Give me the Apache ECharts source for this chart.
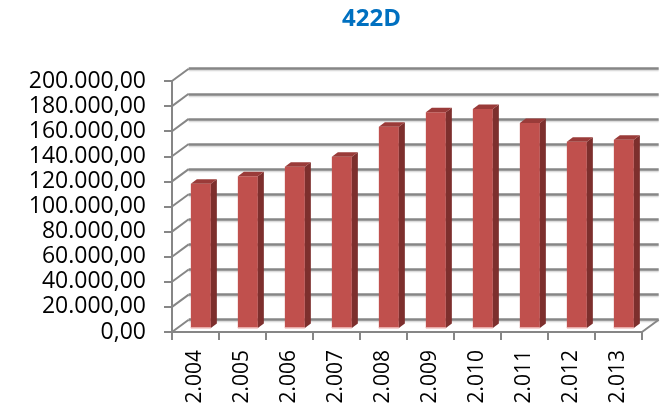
<!DOCTYPE html>
<html>
<head>
<meta charset="utf-8">
<script src="https://cdn.jsdelivr.net/npm/echarts@6/dist/echarts.min.js"></script>
<style>html,body{margin:0;padding:0;background:#fff;}#c{width:664px;height:413px;}</style>
</head>
<body>
<div id="c"></div>
<script>
const categories = ['2.004','2.005','2.006','2.007','2.008','2.009','2.010','2.011','2.012','2.013'];
const values = [115000, 121000, 128500, 136500, 160500, 172000, 174500, 163500, 148500, 150000];
const yTicks = [0, 20000, 40000, 60000, 80000, 100000, 120000, 140000, 160000, 180000, 200000];
const titleText = '422D';

const DX = 16.7, DY = -12.3;      // wall depth offset
const FACE_W = 20, SIDE_DX = 6, SIDE_DY = -4.5;
const gridColor = '#868686';

function fmt(v) {
  const s = Math.round(v).toString().replace(/\B(?=(\d{3})+(?!\d))/g, '.');
  return s + ',00';
}

const chart = echarts.init(document.getElementById('c'));
chart.setOption({
  animation: false,
  title: {
    text: titleText, left: 337, top: 2,
    textStyle: { color: '#0070C0', fontFamily: 'Open Sans', fontWeight: 'bold', fontSize: 24 }
  },
  grid: [
    { left: 172, top: 81, width: 470, height: 251 },
    { left: 172 + DX, top: 81 + DY, width: 470, height: 251 }
  ],
  xAxis: [
    {
      type: 'category', gridIndex: 0, data: categories,
      axisLine: { show: true, lineStyle: { color: gridColor, width: 2 } },
      axisTick: { show: true, length: 8, interval: 0, lineStyle: { color: gridColor, width: 2 } },
      axisLabel: { rotate: 90, margin: 18, interval: 0, color: '#000', fontFamily: 'Open Sans', fontSize: 21 }
    },
    {
      type: 'category', gridIndex: 1, data: categories,
      axisLine: { show: false }, axisTick: { show: false }, axisLabel: { show: false }
    }
  ],
  yAxis: [
    {
      type: 'value', gridIndex: 0, min: 0, max: 200000, interval: 20000,
      axisLine: { show: true, lineStyle: { color: gridColor, width: 2 } },
      axisTick: { show: true, length: 8, lineStyle: { color: gridColor, width: 2 } },
      splitLine: { show: false },
      axisLabel: { margin: 26, color: '#000', fontFamily: 'Open Sans', fontSize: 23, formatter: fmt }
    },
    {
      type: 'value', gridIndex: 1, min: 0, max: 200000, interval: 20000,
      axisLine: { show: false }, axisTick: { show: false }, axisLabel: { show: false },
      splitLine: { show: true, lineStyle: { color: gridColor, width: 2.5, shadowColor: 'rgba(0,0,0,0.15)', shadowOffsetY: 1.5, shadowBlur: 1 } }
    }
  ],
  series: [
    {
      type: 'custom', xAxisIndex: 0, yAxisIndex: 0, z: 1,
      data: yTicks.map(v => [0, v]),
      renderItem: function (params, api) {
        const cs = params.coordSys;
        const y = api.coord([0, api.value(1)])[1];
        const children = [{
          type: 'line',
          shape: { x1: cs.x, y1: y, x2: cs.x + DX, y2: y + DY },
          style: { stroke: gridColor, lineWidth: 2 }
        }];
        if (api.value(1) === 0) {
          children.push({
            type: 'line',
            shape: { x1: cs.x + cs.width, y1: y, x2: cs.x + cs.width + DX, y2: y + DY },
            style: { stroke: gridColor, lineWidth: 2 }
          });
        }
        return { type: 'group', children: children };
      }
    },
    {
      type: 'custom', xAxisIndex: 0, yAxisIndex: 0, z: 5,
      data: values.map((v, i) => [i, v]),
      renderItem: function (params, api) {
        const top = api.coord([api.value(0), api.value(1)]);
        const base = api.coord([api.value(0), 0]);
        const cx = top[0] + DX / 2 - SIDE_DX / 2;
        const sh = DY / 2 - SIDE_DY / 2;
        const x0 = cx - FACE_W / 2, x1 = cx + FACE_W / 2;
        const yT = top[1] + sh, yB = base[1] + sh;
        return {
          type: 'group',
          children: [
            { type: 'rect', shape: { x: x0, y: yT, width: FACE_W, height: yB - yT }, style: { fill: '#C0504D' } },
            { type: 'polygon', shape: { points: [[x1, yT], [x1 + SIDE_DX, yT + SIDE_DY], [x1 + SIDE_DX, yB + SIDE_DY], [x1, yB]] }, style: { fill: '#7D2F2D' } },
            { type: 'polygon', shape: { points: [[x0, yT], [x0 + SIDE_DX, yT + SIDE_DY], [x1 + SIDE_DX, yT + SIDE_DY], [x1, yT]] }, style: { fill: '#9A3B39' } },
            { type: 'rect', shape: { x: x0, y: yB - 1, width: FACE_W, height: 1.5 }, style: { fill: '#EBB5B3' } }
          ]
        };
      }
    }
  ]
});
</script>
</body>
</html>
